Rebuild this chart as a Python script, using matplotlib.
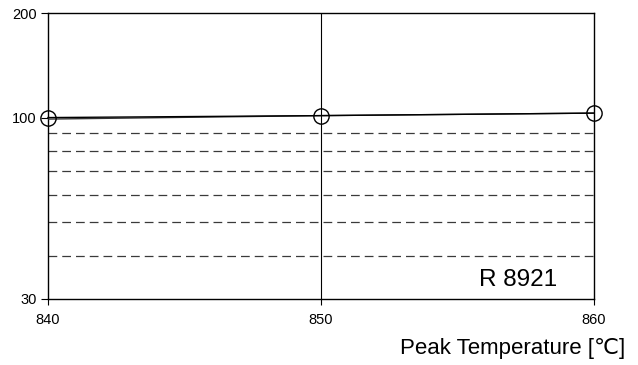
import numpy as np
import matplotlib.pyplot as plt
from matplotlib.ticker import FixedLocator, NullLocator, FixedFormatter

# data
temps = [840, 850, 860]
series_a = [100.0, 101.3, 103.0]
series_b = [99.0, 101.3, 103.0]
y_ticks = [30, 100, 200]
x_ticks = [840, 850, 860]
guide_levels = [40, 50, 60, 70, 80, 90]
sample_name = "R 8921"

plt.rcParams['font.family'] = ['Liberation Sans', 'DejaVu Sans']

fig = plt.figure(figsize=(6.38, 3.65), dpi=100)
ax = fig.add_axes([0.0752, 0.181, 0.856, 0.783])

ax.set_yscale('log')
ax.set_ylim(30, 200)
ax.set_xlim(840, 860)

for lv in guide_levels:
    ax.axhline(lv, color='#3a3a3a', lw=0.9, ls=(0, (7, 4)), zorder=1)
ax.axvline(850, color='black', lw=0.8, zorder=1)

ax.plot(temps, series_b, color='#333333', lw=1.0, zorder=3)
ax.plot(temps, series_a, color='black', lw=1.0, marker='o', ms=11,
        mfc='none', mec='black', mew=1.0, zorder=4, clip_on=False)

ax.yaxis.set_major_locator(FixedLocator(y_ticks))
ax.yaxis.set_major_formatter(FixedFormatter([str(v) for v in y_ticks]))
ax.yaxis.set_minor_locator(NullLocator())
ax.set_xticks(x_ticks)
ax.set_xticklabels([str(v) for v in x_ticks])
ax.tick_params(axis='both', direction='out', length=5, width=0.8, labelsize=10.5, pad=3)
ax.tick_params(axis='x', length=4, pad=6)

for sp in ax.spines.values():
    sp.set_linewidth(1.0)

ax.text(0.932, 0.045, sample_name, transform=ax.transAxes, ha='right', va='baseline', fontsize=17.5)
fig.text(0.98, 0.030, "Peak Temperature [℃]", ha='right', va='baseline', fontsize=16)

fig.savefig('out.png', dpi=100)
